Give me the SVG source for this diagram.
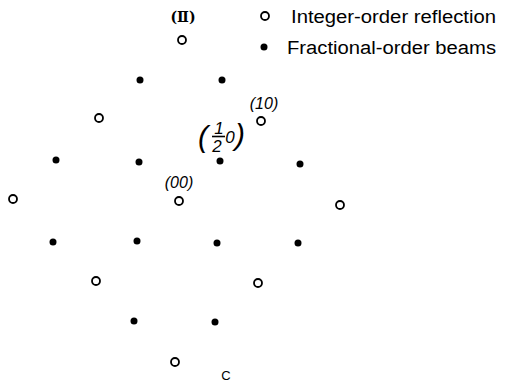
<svg xmlns="http://www.w3.org/2000/svg" width="506" height="383" viewBox="0 0 506 383">
<style>
.o{fill:none;stroke:#000;stroke-width:1.8}
.f{fill:#000}
.t{font-family:"Liberation Sans",Arial,sans-serif;fill:#000}
.lg{font-size:18px}
.it{font-style:italic;font-size:16px}
.fr{font-style:italic;font-size:17px}
</style>
<rect width="506" height="383" fill="#fff"/>
<g id="legend">
<circle class="o" cx="265" cy="16" r="4"/>
<text class="t lg" x="291" y="23" textLength="205" lengthAdjust="spacingAndGlyphs">Integer-order reflection</text>
<circle class="f" cx="264" cy="47" r="3.5"/>
<text class="t lg" x="287" y="54" textLength="209" lengthAdjust="spacingAndGlyphs">Fractional-order beams</text>
</g>
<g id="integer">
<circle class="o" cx="182" cy="40" r="4"/>
<circle class="o" cx="99" cy="118" r="4"/>
<circle class="o" cx="261" cy="121" r="4"/>
<circle class="o" cx="13" cy="199" r="4"/>
<circle class="o" cx="179" cy="201" r="4"/>
<circle class="o" cx="340" cy="205" r="4"/>
<circle class="o" cx="96" cy="281" r="4"/>
<circle class="o" cx="258" cy="283" r="4"/>
<circle class="o" cx="175" cy="362" r="4"/>
</g>
<g id="fractional">
<circle class="f" cx="140" cy="80" r="3.5"/>
<circle class="f" cx="222" cy="80" r="3.5"/>
<circle class="f" cx="56" cy="160" r="3.5"/>
<circle class="f" cx="139" cy="162" r="3.5"/>
<circle class="f" cx="220" cy="161" r="3.5"/>
<circle class="f" cx="300" cy="164" r="3.5"/>
<circle class="f" cx="53" cy="242" r="3.5"/>
<circle class="f" cx="137" cy="241" r="3.5"/>
<circle class="f" cx="217" cy="243" r="3.5"/>
<circle class="f" cx="298" cy="243" r="3.5"/>
<circle class="f" cx="134" cy="321" r="3.5"/>
<circle class="f" cx="215" cy="322" r="3.5"/>
</g>
<g id="labels">
<text x="183" y="22" text-anchor="middle" font-family="DejaVu Serif,serif" font-weight="bold" font-size="14">(Ⅱ)</text>
<text class="t it" x="264" y="109" text-anchor="middle">(10)</text>
<text class="t it" x="179" y="188" text-anchor="middle">(00)</text>
<text class="t" x="198" y="147" font-size="30" font-style="italic">(</text>
<text class="t fr" x="219" y="134" text-anchor="middle">1</text>
<line x1="212" y1="136.5" x2="225" y2="136.5" stroke="#000" stroke-width="1.6"/>
<text class="t fr" x="217" y="152" text-anchor="middle">2</text>
<text class="t fr" x="230" y="143" text-anchor="middle">0</text>
<text class="t" x="235" y="145" font-size="30" font-style="italic">)</text>
<text class="t" x="226" y="380" text-anchor="middle" font-size="13">C</text>
</g>
</svg>
